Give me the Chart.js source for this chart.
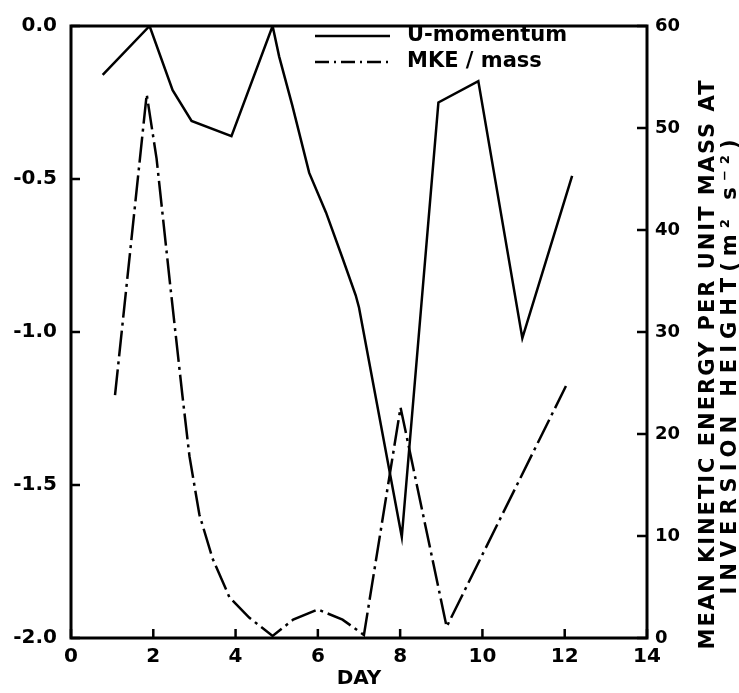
<!DOCTYPE html>
<html>
<head>
<meta charset="utf-8">
<script src="https://cdn.jsdelivr.net/npm/chart.js@4/dist/chart.umd.min.js"></script>
<style>
  body { margin: 0; background: #fff; }
</style>
</head>
<body>
<canvas id="dayChart" width="739" height="693"></canvas>

<script>
// U-momentum (left axis)
const uDays = [0.77, 1.91, 2.47, 2.93, 3.9, 4.9, 5.06, 5.38, 5.79, 6.2, 6.59, 6.92, 7.0, 8.04, 8.93, 9.9, 10.97, 12.18];
const uMomentum = [-0.16, 0.0, -0.21, -0.31, -0.36, 0.0, -0.10, -0.26, -0.48, -0.61, -0.755, -0.88, -0.92, -1.67, -0.25, -0.18, -1.02, -0.49];

// mean kinetic energy per unit mass (right axis)
const mkeDays = [1.07, 1.84, 2.08, 2.4, 2.71, 2.88, 3.12, 3.44, 3.85, 4.33, 4.9, 5.4, 6.0, 6.6, 7.12, 8.01, 9.13, 12.03];
const mkeMass = [23.8, 53.3, 47, 35, 23.7, 17.8, 12.1, 7.8, 4.0, 2.0, 0.2, 1.8, 2.8, 1.8, 0.3, 22.6, 1.1, 24.7];

const seriesNames = ['U-momentum', 'MKE / mass'];
const rightTitle = ['MEAN KINETIC ENERGY PER UNIT MASS AT', 'INVERSION HEIGHT(m\u00b2 s\u207b\u00b2)'];

const dashDot = [26, 5, 3, 5];

// frame, inward tick marks, legend and the right axis title
const decor = {
    id: 'decor',
    afterDraw(chart) {
        const ctx = chart.ctx;
        const a = chart.chartArea;
        const sx = chart.scales.x, sy = chart.scales.y, sy2 = chart.scales.y2;
        ctx.save();
        ctx.strokeStyle = '#000';
        ctx.fillStyle = '#000';

        ctx.lineWidth = 3;
        ctx.strokeRect(a.left, a.top, a.right - a.left, a.bottom - a.top);

        ctx.lineWidth = 2.5;
        ctx.beginPath();
        sx.ticks.forEach(t => {
            const p = sx.getPixelForValue(t.value);
            ctx.moveTo(p, a.bottom);
            ctx.lineTo(p, a.bottom - 9);
        });
        sy.ticks.forEach(t => {
            const p = sy.getPixelForValue(t.value);
            ctx.moveTo(a.left, p);
            ctx.lineTo(a.left + 9, p);
        });
        sy2.ticks.forEach(t => {
            const p = sy2.getPixelForValue(t.value);
            ctx.moveTo(a.right, p);
            ctx.lineTo(a.right - 10, p);
        });
        ctx.stroke();

        // legend
        const lx = a.left + 244, lw = 75;
        const rows = [a.top + 10, a.top + 36];
        ctx.font = 'bold 21px "DejaVu Sans"';
        ctx.textBaseline = 'middle';
        ctx.textAlign = 'left';
        rows.forEach((ry, i) => {
            ctx.setLineDash(i === 0 ? [] : [14, 5, 2, 5]);
            ctx.beginPath();
            ctx.moveTo(lx, ry);
            ctx.lineTo(lx + lw, ry);
            ctx.stroke();
            ctx.fillText(seriesNames[i], lx + lw + 17, ry);
        });
        ctx.setLineDash([]);

        // right axis title, reading upward
        const cy = (a.top + a.bottom) / 2 + 32;
        ctx.font = 'bold 21px "DejaVu Sans"';
        ctx.textAlign = 'center';
        [sy2.right - 30, sy2.right - 8].forEach((x, i) => {
            ctx.save();
            ctx.letterSpacing = i === 0 ? '2px' : '6px';
            ctx.translate(x, cy);
            ctx.rotate(-Math.PI / 2);
            ctx.fillText(rightTitle[i], 0, 0);
            ctx.restore();
        });
        ctx.restore();
    }
};

const tickFont = { family: 'DejaVu Sans', weight: 'bold', size: 20 };

new Chart(document.getElementById('dayChart'), {
    type: 'line',
    data: {
        datasets: [{
            label: seriesNames[0],
            data: uDays.map((d, i) => ({ x: d, y: uMomentum[i] })),
            yAxisID: 'y',
            borderColor: '#000',
            borderWidth: 2.5,
            pointRadius: 0,
            tension: 0,
            fill: false
        }, {
            label: seriesNames[1],
            data: mkeDays.map((d, i) => ({ x: d, y: mkeMass[i] })),
            yAxisID: 'y2',
            borderColor: '#000',
            borderWidth: 2.5,
            borderDash: dashDot,
            pointRadius: 0,
            tension: 0,
            fill: false
        }]
    },
    options: {
        responsive: false,
        animation: false,
        layout: { padding: { top: 19, left: 0, right: 0, bottom: 0 } },
        plugins: {
            legend: { display: false },
            tooltip: { enabled: false }
        },
        scales: {
            x: {
                type: 'linear',
                min: 0,
                max: 14,
                ticks: { stepSize: 2, color: '#000', font: tickFont, padding: 7, maxRotation: 0 },
                grid: { display: false, drawTicks: false },
                border: { display: false },
                title: { display: true, text: 'DAY', color: '#000', font: tickFont, padding: { top: 0, bottom: 2 } },
                afterFit(scale) { scale.height = 55; }
            },
            y: {
                position: 'left',
                min: -2,
                max: 0,
                ticks: { stepSize: 0.5, color: '#000', font: tickFont, padding: 14, callback: v => v.toFixed(1) },
                grid: { display: false, drawTicks: false },
                border: { display: false },
                afterFit(scale) { scale.width = 71; }
            },
            y2: {
                position: 'right',
                min: 0,
                max: 60,
                ticks: { stepSize: 10, color: '#000', font: { family: 'DejaVu Sans', weight: 'bold', size: 18 }, padding: 8 },
                grid: { display: false, drawTicks: false },
                border: { display: false },
                afterFit(scale) { scale.width = 92; }
            }
        }
    },
    plugins: [decor]
});
</script>
</body>
</html>
